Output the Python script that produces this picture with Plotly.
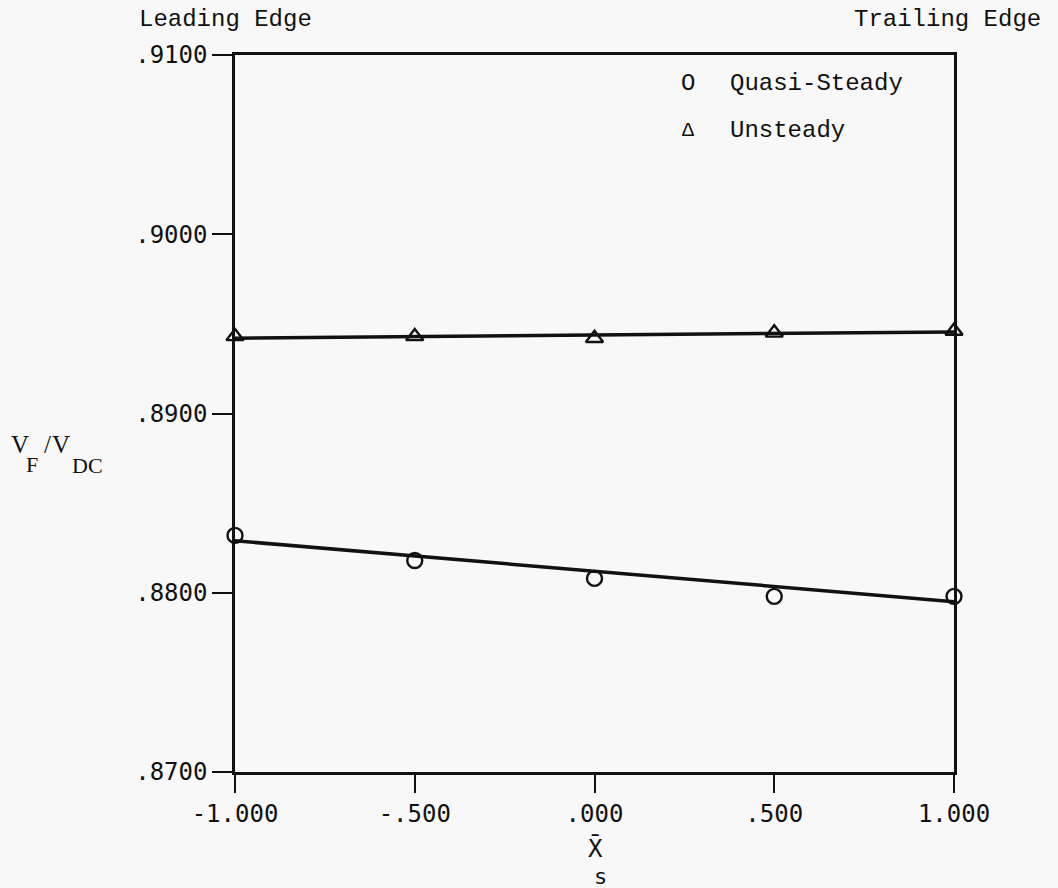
import plotly.graph_objects as go

# Data
x_pos = [-1.0, -0.5, 0.0, 0.5, 1.0]
quasi_steady = [0.8832, 0.8818, 0.8808, 0.8798, 0.8798]
unsteady = [0.8943, 0.8943, 0.8942, 0.8945, 0.8946]
fit_x = [-1.0, 1.0]
quasi_fit = [0.8829, 0.8795]
unsteady_fit = [0.8942, 0.89455]

x_ticks = [-1.0, -0.5, 0.0, 0.5, 1.0]
x_ticktext = ["-1.000", "-.500", ".000", ".500", "1.000"]
y_ticks = [0.87, 0.88, 0.89, 0.90, 0.91]
y_ticktext = [".8700", ".8800", ".8900", ".9000", ".9100"]

BG = "#f8f8f8"
INK = "#111111"
TICKFONT = dict(family="DejaVu Sans Mono", size=24, color=INK)
TYPEFONT = dict(family="Liberation Mono", size=24, color=INK)

# plot-area pixel box in the page
PL, PR, PT, PB = 235, 954, 55, 772


def px(xp):
    return (xp - PL) / (PR - PL)


def py(yp):
    return (PB - yp) / (PB - PT)


fig = go.Figure()
fig.add_trace(go.Scatter(x=fit_x, y=unsteady_fit, mode="lines",
                         line=dict(color=INK, width=3.5), showlegend=False,
                         cliponaxis=False))
fig.add_trace(go.Scatter(x=fit_x, y=quasi_fit, mode="lines",
                         line=dict(color=INK, width=3.5), showlegend=False,
                         cliponaxis=False))
fig.add_trace(go.Scatter(x=x_pos, y=unsteady, mode="markers",
                         marker=dict(symbol="triangle-up-open", size=15,
                                     color=INK, line=dict(width=2.4, color=INK)),
                         showlegend=False, cliponaxis=False))
fig.add_trace(go.Scatter(x=x_pos, y=quasi_steady, mode="markers",
                         marker=dict(symbol="circle-open", size=15,
                                     color=INK, line=dict(width=2.4, color=INK)),
                         showlegend=False, cliponaxis=False))

fig.update_xaxes(range=[-1, 1], tickvals=x_ticks, ticktext=x_ticktext,
                 showline=True, linecolor=INK, linewidth=2.5, mirror=True,
                 ticks="outside", ticklen=18, tickwidth=2, tickcolor=INK,
                 showgrid=False, zeroline=False, tickfont=TICKFONT)
fig.update_yaxes(range=[0.87, 0.91], tickvals=y_ticks, ticktext=y_ticktext,
                 showline=True, linecolor=INK, linewidth=2.5, mirror=True,
                 ticks="outside", ticklen=20, tickwidth=2, tickcolor=INK,
                 showgrid=False, zeroline=False, tickfont=TICKFONT)

SERIF = dict(family="Liberation Serif", size=25, color=INK)
SERIF_SUB = dict(family="Liberation Serif", size=22, color=INK)
annotations = [
    dict(text="Leading Edge", x=px(137), y=py(20), xanchor="left", yanchor="middle",
         font=TYPEFONT),
    dict(text="Trailing Edge", x=px(1043), y=py(20), xanchor="right", yanchor="middle",
         font=TYPEFONT),
    dict(text="O", x=px(688), y=py(83), xanchor="center", yanchor="middle",
         font=TYPEFONT),
    dict(text="Quasi-Steady", x=px(728), y=py(83), xanchor="left", yanchor="middle",
         font=TYPEFONT),
    dict(text="\u0394", x=px(688), y=py(130), xanchor="center", yanchor="middle",
         font=dict(family="Liberation Mono", size=20, color=INK)),
    dict(text="Unsteady", x=px(728), y=py(130), xanchor="left", yanchor="middle",
         font=TYPEFONT),
    # y-axis title V_F / V_DC
    dict(text="V", x=px(20), y=py(444), xanchor="center", yanchor="middle", font=SERIF),
    dict(text="F", x=px(32), y=py(464), xanchor="center", yanchor="middle", font=SERIF_SUB),
    dict(text="/", x=px(47), y=py(444), xanchor="center", yanchor="middle", font=SERIF),
    dict(text="V", x=px(61), y=py(444), xanchor="center", yanchor="middle", font=SERIF),
    dict(text="DC", x=px(87), y=py(465), xanchor="center", yanchor="middle", font=SERIF_SUB),
    # x-axis title X-bar_s
    dict(text="X\u0304", x=px(595), y=py(848), xanchor="center", yanchor="middle",
         font=dict(family="DejaVu Sans Mono", size=24, color=INK)),
    dict(text="s", x=px(600), y=py(876), xanchor="center", yanchor="middle",
         font=dict(family="DejaVu Sans Mono", size=22, color=INK)),
]
for a in annotations:
    a.update(xref="paper", yref="paper", showarrow=False)

fig.update_layout(width=1058, height=888,
                  margin=dict(l=PL, r=1058 - PR, t=PT, b=888 - PB),
                  paper_bgcolor=BG, plot_bgcolor=BG,
                  annotations=annotations, showlegend=False)

fig.write_html("out.html",
               config={"displayModeBar": False},
               post_script="document.body.style.margin='0';"
                           "document.body.style.overflow='hidden';"
                           "document.body.style.background='" + BG + "';")
